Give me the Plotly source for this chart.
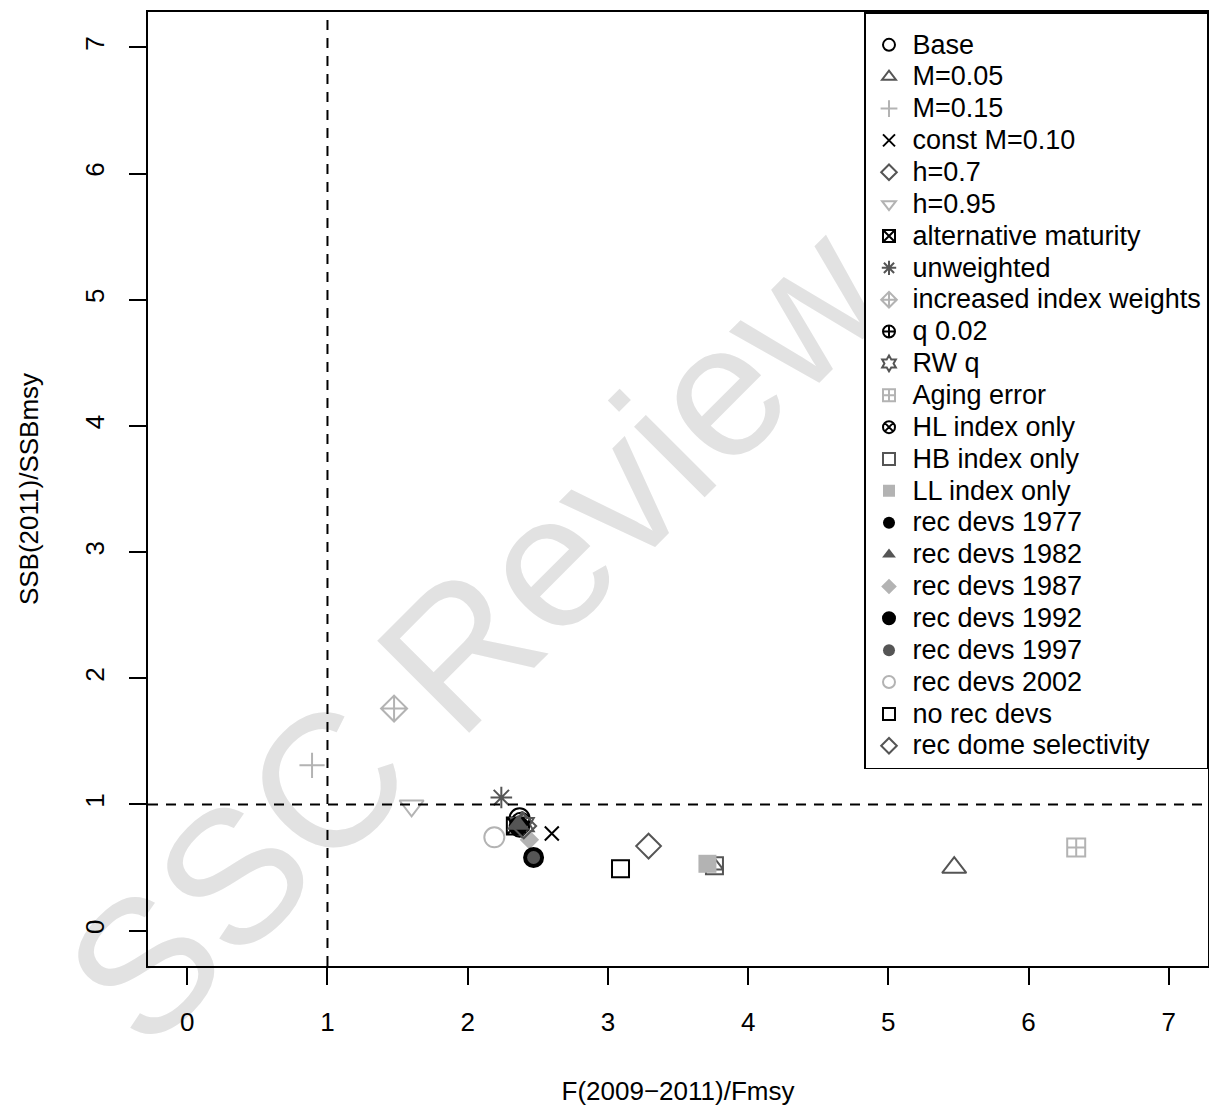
import plotly.graph_objects as go

# ---------------- data ----------------
names = ["Base", "M=0.05", "M=0.15", "const M=0.10", "h=0.7", "h=0.95",
         "alternative maturity", "unweighted", "increased index weights",
         "q 0.02", "RW q", "Aging error", "HL index only", "HB index only",
         "LL index only", "rec devs 1977", "rec devs 1982", "rec devs 1987",
         "rec devs 1992", "rec devs 1997", "rec devs 2002", "no rec devs",
         "rec dome selectivity"]
f_ratio = [2.37, 5.47, 0.89, 2.60, 3.29, 1.60, 2.34, 2.24, 1.475, 2.38, 2.39,
           6.34, 2.37, 3.76, 3.71, 2.36, 2.36, 2.44, 2.47, 2.47, 2.19, 3.09, 2.40]
ssb_ratio = [0.89, 0.50, 1.31, 0.77, 0.67, 0.99, 0.83, 1.055, 1.76, 0.86, 0.84,
             0.66, 0.82, 0.515, 0.53, 0.83, 0.84, 0.72, 0.58, 0.58, 0.74, 0.49, 0.83]
ref_f = 1.0
ref_ssb = 1.0
tick_vals = [0, 1, 2, 3, 4, 5, 6, 7]
x_title = "F(2009\u22122011)/Fmsy"
y_title = "SSB(2011)/SSBmsy"
watermark = "SSC Review"

# ---------------- styles ----------------
BLACK, DARK, LIGHT = "#000000", "#555555", "#b3b3b3"
cols = [BLACK, DARK, LIGHT] * 8
symbols = ["circle-open", "triangle-up-open", "cross-thin-open", "x-thin-open",
           "diamond-open", "triangle-down-open", "square-x-open", "asterisk-open",
           "diamond-cross-open", "circle-cross-open", "hexagram-open",
           "square-cross-open", "circle-x-open", "square-open", "square",
           "circle", "triangle-up", "diamond", "circle", "circle",
           "circle-open", "square-open", "diamond-open"]
sizes = [20, 21, 18, 14, 19, 21, 17, 18, 20, 19, 20, 18, 19, 17, 18,
         19, 20, 15, 19, 13, 20, 17, 19]
filled_border = {18: BLACK}  # solid circle with border

FONT = "Liberation Sans, Arial, sans-serif"
TXT = 26
LEG_TXT = 27

fig = go.Figure()
for i, nm in enumerate(names):
    sym = symbols[i]
    if sym.endswith("-open"):
        line = dict(color=cols[i], width=2)
    elif i in filled_border:
        line = dict(color=filled_border[i], width=2)
    else:
        line = dict(color=cols[i], width=0)
    fig.add_trace(go.Scatter(
        x=[f_ratio[i]], y=[ssb_ratio[i]], mode="markers",
        name='<span style="font-size:%dpx">%s</span>' % (LEG_TXT, nm),
        marker=dict(symbol=sym, size=sizes[i], color=cols[i], line=line),
        cliponaxis=False, hoverinfo="skip"))
    if nm == "HB index only":
        fig.add_trace(go.Scatter(
            x=[f_ratio[i]], y=[ssb_ratio[i]], mode="markers", showlegend=False,
            marker=dict(symbol="triangle-up-open", size=15, color=cols[i],
                        line=dict(color=cols[i], width=2)),
            hoverinfo="skip"))

fig.add_vline(x=ref_f, line=dict(color="black", width=2, dash="10px,8px"))
fig.add_hline(y=ref_ssb, line=dict(color="black", width=2, dash="10px,8px"))

axis_common = dict(
    range=[-0.28, 7.28], tickmode="array", tickvals=tick_vals,
    ticktext=[str(v) for v in tick_vals], ticks="outside", ticklen=17,
    tickwidth=2, tickcolor="black", showline=True, mirror=True,
    linewidth=2, linecolor="black", showgrid=False, zeroline=False,
    tickfont=dict(size=TXT, color="black", family=FONT))

fig.update_xaxes(**axis_common, ticklabelstandoff=15,
                 title=dict(text=x_title, standoff=46,
                            font=dict(size=TXT, color="black", family=FONT)))
fig.update_yaxes(**axis_common, tickangle=-90, ticklabelstandoff=15,
                 title=dict(text=y_title, standoff=33,
                            font=dict(size=TXT, color="black", family=FONT)))

fig.add_annotation(
    text=watermark, xref="paper", yref="paper", x=0.3085, y=0.347,
    xanchor="center", yanchor="middle", showarrow=False, textangle=-45,
    font=dict(size=189, color="#e2e2e2", family=FONT))

fig.update_layout(
    width=1209, height=1108, autosize=False,
    margin=dict(l=148, r=1, t=12, b=142, autoexpand=False),
    paper_bgcolor="white", plot_bgcolor="rgba(0,0,0,0)",
    font=dict(family=FONT, size=TXT, color="black"),
    legend=dict(x=1, y=1, xanchor="right", yanchor="top",
                bgcolor="white", bordercolor="black", borderwidth=1.5,
                font=dict(size=22.2, color="black", family=FONT),
                title=dict(text=" ", font=dict(size=8)),
                itemsizing="constant", itemwidth=37, tracegroupgap=0),
    showlegend=True)

post = """
document.documentElement.style.margin = '0';
document.body.style.margin = '0';
document.body.style.overflow = 'hidden';
var gd = document.getElementById('{plot_id}');
function moveWatermark(){
  var ann = gd.querySelector('.infolayer g.annotation[data-index="0"]');
  var below = gd.querySelector('.layer-below');
  if (ann && below && ann.parentNode !== below) { below.appendChild(ann); }
}
moveWatermark();
if (gd.on) { gd.on('plotly_afterplot', moveWatermark); }
"""

fig.write_html("out.html", post_script=post,
               config={"displayModeBar": False, "staticPlot": True})
